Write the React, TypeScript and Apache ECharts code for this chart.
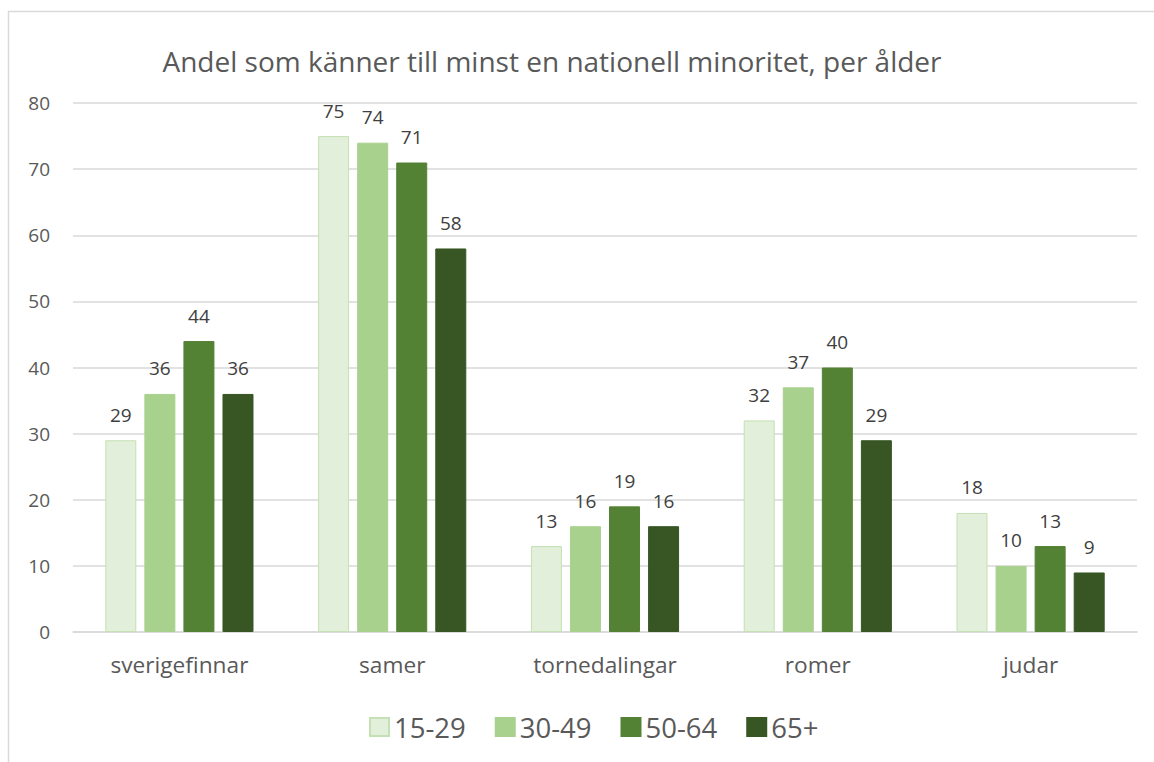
import React, { useEffect, useRef } from "react";
import * as echarts from "echarts";

const categories = ["sverigefinnar", "samer", "tornedalingar", "romer", "judar"];
const seriesNames = ["15-29", "30-49", "50-64", "65+"];
const values15_29 = [29, 75, 13, 32, 18];
const values30_49 = [36, 74, 16, 37, 10];
const values50_64 = [44, 71, 19, 40, 13];
const values65 = [36, 58, 16, 29, 9];
const yTicks = [0, 10, 20, 30, 40, 50, 60, 70, 80];

const colors = ["#E2EFDA", "#A9D18E", "#548235", "#375623"];
const borders = ["#C5E0B4", "#A9D18E", "#548235", "#375623"];
const FONT = "'Open Sans', 'Noto Sans', sans-serif";

export default function App() {
  const ref = useRef<HTMLDivElement>(null);
  useEffect(() => {
    if (!ref.current) return;
    const chart = echarts.init(ref.current, undefined, { renderer: "svg" });
    const data = [values15_29, values30_49, values50_64, values65];
    chart.setOption({
      animation: false,
      backgroundColor: "#FFFFFF",
      textStyle: { fontFamily: FONT },
      title: {
        text: "Andel som känner till minst en nationell minoritet, per ålder",
        left: 547,
        textAlign: "center",
        top: 42,
        textStyle: { fontFamily: FONT, fontSize: 28, fontWeight: "normal", color: "#595959" },
      },
      graphic: [
        { type: "line", shape: { x1: 8, y1: 11.5, x2: 1154, y2: 11.5 }, style: { stroke: "#D9D9D9", lineWidth: 1.5 } },
        { type: "line", shape: { x1: 8.5, y1: 11, x2: 8.5, y2: 762 }, style: { stroke: "#D9D9D9", lineWidth: 1.5 } },
      ],
      legend: {
        data: seriesNames,
        left: 364,
        top: 708,
        itemWidth: 19,
        itemHeight: 18,
        itemGap: 29,
        icon: "rect",
        textStyle: { fontFamily: FONT, fontSize: 27.5, color: "#595959" },
      },
      grid: { left: 73, right: 17, top: 103, bottom: 130, containLabel: false },
      xAxis: {
        type: "category",
        data: categories,
        axisLine: { show: true, lineStyle: { color: "#D9D9D9", width: 1.5 } },
        axisTick: { show: false },
        axisLabel: { fontFamily: FONT, fontSize: 22.7, color: "#595959", margin: 21 },
      },
      yAxis: {
        type: "value",
        min: yTicks[0],
        max: yTicks[yTicks.length - 1],
        interval: 10,
        axisLine: { show: false },
        axisTick: { show: false },
        splitLine: { lineStyle: { color: "#D9D9D9", width: 1.5 } },
        axisLabel: { fontFamily: FONT, fontSize: 19, color: "#595959", margin: 23 },
      },
      series: seriesNames.map((name, i) => ({
        name,
        type: "bar",
        data: data[i],
        barWidth: 31,
        barGap: "26%",
        itemStyle: { color: colors[i], borderColor: borders[i], borderWidth: 1 },
        label: {
          show: true,
          position: "top",
          distance: 16,
          fontFamily: FONT,
          fontSize: 19,
          color: "#404040",
        },
      })),
    });
    return () => chart.dispose();
  }, []);
  return (
    <div
      ref={ref}
      style={{ position: "fixed", left: 0, top: 0, width: 1154, height: 762 }}
    />
  );
}
